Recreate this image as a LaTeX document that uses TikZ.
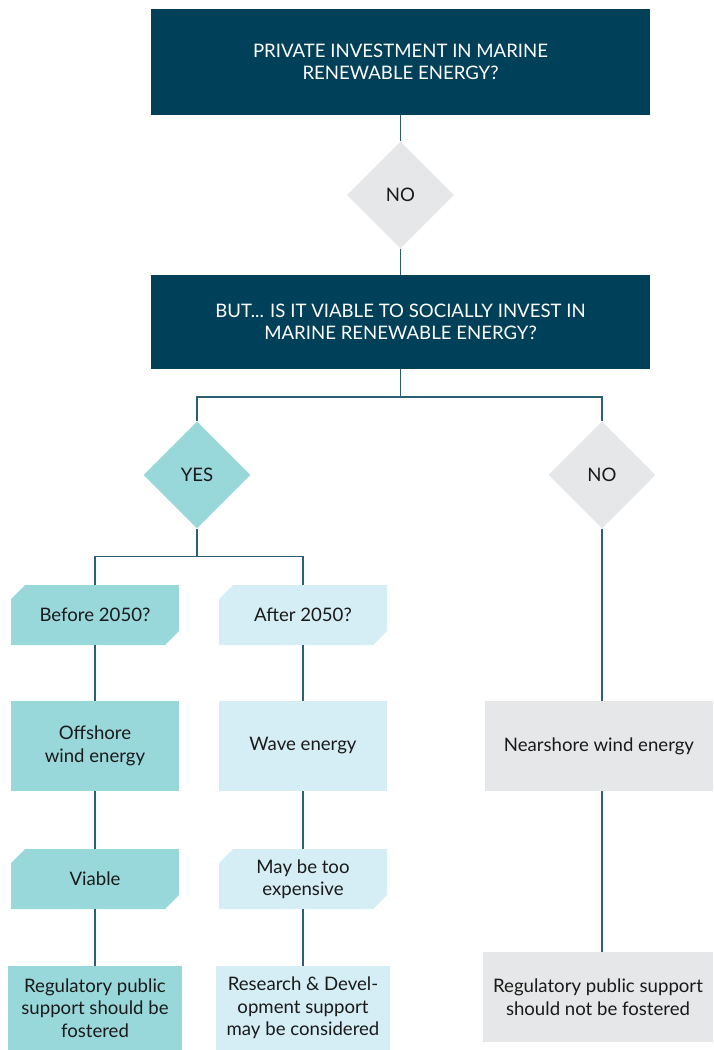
\documentclass[tikz,border=0pt]{standalone}
\usepackage{fontspec}
\setmainfont{Lato}
\usetikzlibrary{shapes.geometric}
\definecolor{navy}{HTML}{004058}
\definecolor{teal}{HTML}{99D8DA}
\definecolor{pale}{HTML}{D5EDF5}
\definecolor{greyf}{HTML}{E6E7E8}
\definecolor{linec}{HTML}{2B5F75}
\definecolor{txt}{HTML}{1A1A1A}
\tikzset{
  every node/.style={font=\fontsize{18.6}{22.5}\selectfont, text=txt, align=center, inner sep=0pt},
  title/.style={fill=navy, text=white, minimum width=499pt},
  dia/.style={diamond, aspect=1, minimum width=107pt, minimum height=107pt, fill=#1},
  box/.style={rectangle, fill=#1, minimum width=168pt, minimum height=90pt},
  cutbox/.style={rectangle, minimum width=168pt, minimum height=60pt,
    path picture={\fill[#1] ([yshift=-14pt]path picture bounding box.north west)
      -- ([xshift=14pt]path picture bounding box.north west)
      -- (path picture bounding box.north east)
      -- ([yshift=14pt]path picture bounding box.south east)
      -- ([xshift=-14pt]path picture bounding box.south east)
      -- (path picture bounding box.south west) -- cycle;}},
  conn/.style={draw=linec, line width=1.5pt},
}
\begin{document}
\begin{tikzpicture}[x=1pt,y=-1pt]
\useasboundingbox (0,0) rectangle (713,1050);
\node[title, minimum height=106pt] (top) at (400.5,62) {PRIVATE INVESTMENT IN MARINE\\RENEWABLE ENERGY?};
\node[dia=greyf] (no1) at (400.5,195) {NO};
\node[title, minimum height=94pt] (q2) at (400.5,322) {BUT... IS IT VIABLE TO SOCIALLY INVEST IN\\MARINE RENEWABLE ENERGY?};
\node[dia=teal] (yes) at (197,475) {YES};
\node[dia=greyf] (no2) at (602,475) {NO};
\node[cutbox=teal] (before) at (95,615) {Before 2050?};
\node[cutbox=pale] (after) at (303,615) {After 2050?};
\node[box=teal] (off) at (95,746) {Offshore\\wind energy};
\node[box=pale] (wave) at (303,746) {Wave energy};
\node[cutbox=teal] (viable) at (95,879) {Viable};
\node[cutbox=pale] (exp) at (303,879) {May be too\\expensive};
\node[box=teal, minimum width=174pt, minimum height=84pt] (reg1) at (95,1008) {Regulatory public\\support should be\\fostered};
\node[box=pale, minimum width=174pt, minimum height=84pt] (rd) at (303,1008) {Research \& Devel-\\opment support\\may be considered};
\node[box=greyf, minimum width=228pt] (near) at (599,746) {Nearshore wind energy};
\node[box=greyf, minimum width=230pt] (reg2) at (598,997) {Regulatory public support\\should not be fostered};
\draw[conn] (top.south) -- (no1.north);
\draw[conn] (no1.south) -- (q2.north);
\draw[conn] (q2.south) -- ++(0,28) coordinate (j1);
\draw[conn] (j1) -| (yes.north);
\draw[conn] (j1) -| (no2.north);
\draw[conn] (yes.south) -- ++(0,28) coordinate (j2);
\draw[conn] (j2) -| (before.north);
\draw[conn] (j2) -| (after.north);
\draw[conn] (before.south) -- (off.north);
\draw[conn] (after.south) -- (wave.north);
\draw[conn] (off.south) -- (viable.north);
\draw[conn] (wave.south) -- (exp.north);
\draw[conn] (viable.south) -- (reg1.north);
\draw[conn] (exp.south) -- (rd.north);
\draw[conn] (no2.south) -- (no2.south |- near.north) coordinate (j3);
\draw[conn] (j3 |- near.south) -- (j3 |- reg2.north);
\end{tikzpicture}
\end{document}
